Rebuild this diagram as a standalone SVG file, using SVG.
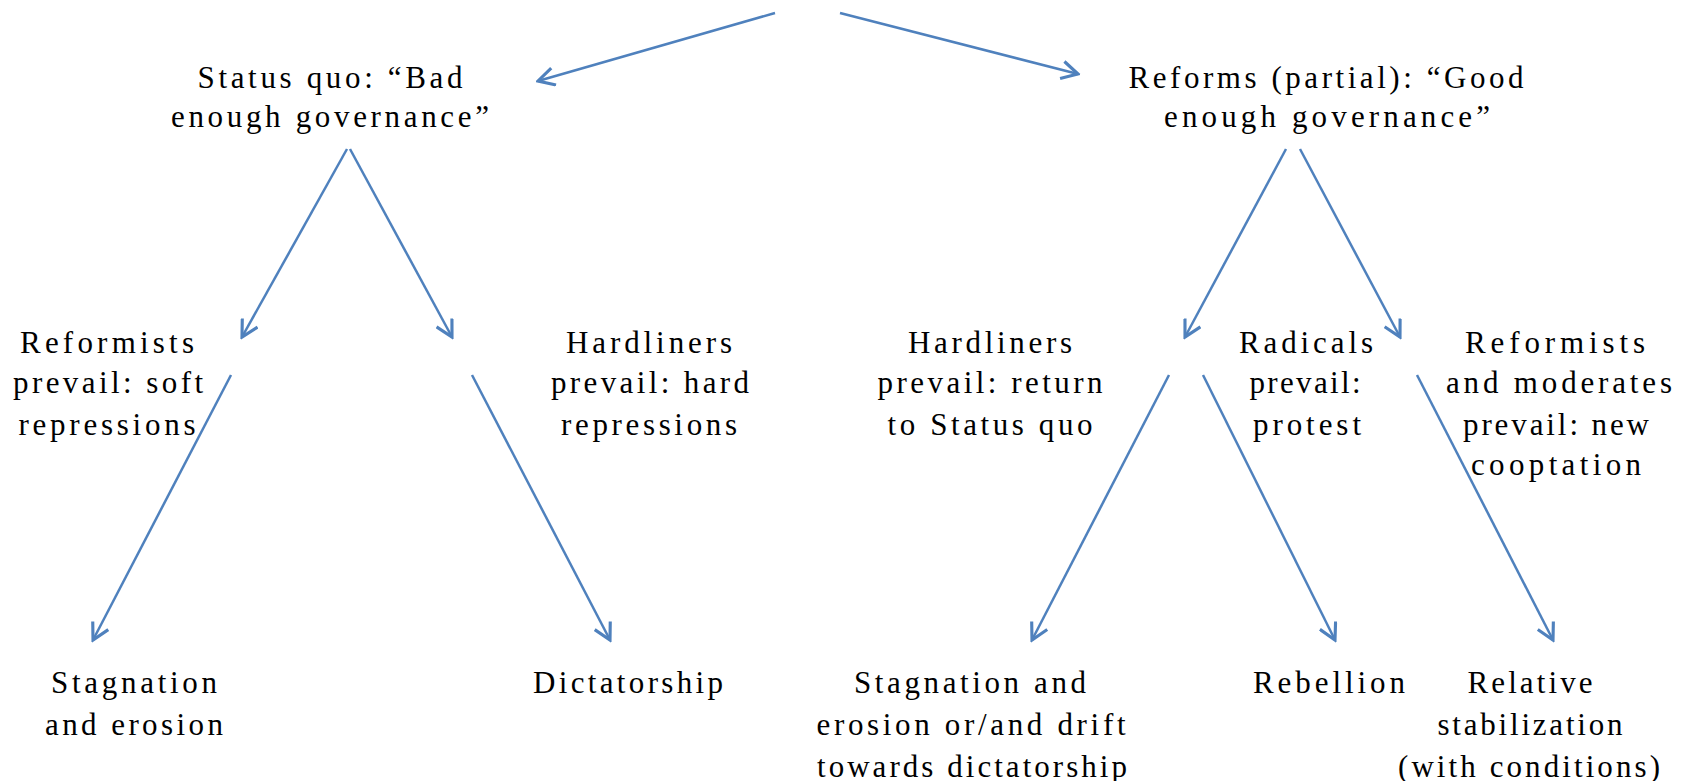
<svg xmlns="http://www.w3.org/2000/svg" width="1688" height="781" viewBox="0 0 1688 781">
<style>
text{font-family:"Liberation Serif","Times New Roman",serif;font-size:31px;fill:#000;text-anchor:middle}
.c{stroke:#4f81bd;stroke-width:2.5;fill:none}
</style>
<defs>
<marker id="ah" markerUnits="userSpaceOnUse" markerWidth="20" markerHeight="20" viewBox="-14 -8 16 16" refX="0" refY="0" orient="auto">
<path d="M-13,-7 L0,0 L-13,7" fill="none" stroke="#4f81bd" stroke-width="2.5" stroke-linejoin="miter"/>
</marker>
</defs>
<rect width="1688" height="781" fill="#fff"/>
<g id="connectors" class="c" marker-end="url(#ah)">
<line x1="775" y1="13" x2="538" y2="81"/>
<line x1="840" y1="13" x2="1078" y2="74"/>
<line x1="347" y1="149" x2="242" y2="337"/>
<line x1="350" y1="149" x2="452" y2="337"/>
<line x1="1286" y1="149" x2="1185" y2="337"/>
<line x1="1300" y1="149" x2="1400" y2="337"/>
<line x1="231" y1="375" x2="93" y2="640"/>
<line x1="472" y1="375" x2="610" y2="640"/>
<line x1="1169" y1="375" x2="1032" y2="640"/>
<line x1="1203" y1="375" x2="1335" y2="640"/>
<line x1="1417" y1="375" x2="1553" y2="640"/>
</g>
<g id="status-quo">
<text x="330" y="88" textLength="265" lengthAdjust="spacing">Status quo: “Bad</text>
<text x="330" y="127" textLength="318" lengthAdjust="spacing">enough governance”</text>
</g>
<g id="reforms">
<text x="1326" y="88" textLength="395" lengthAdjust="spacing">Reforms (partial): “Good</text>
<text x="1327" y="127" textLength="326" lengthAdjust="spacing">enough governance”</text>
</g>
<g id="reformists-soft">
<text x="107" y="353" textLength="174" lengthAdjust="spacing">Reformists</text>
<text x="108" y="393" textLength="190" lengthAdjust="spacing">prevail: soft</text>
<text x="107" y="435" textLength="177" lengthAdjust="spacing">repressions</text>
</g>
<g id="hardliners-hard">
<text x="649" y="353" textLength="166" lengthAdjust="spacing">Hardliners</text>
<text x="650" y="393" textLength="198" lengthAdjust="spacing">prevail: hard</text>
<text x="649" y="435" textLength="176" lengthAdjust="spacing">repressions</text>
</g>
<g id="hardliners-return">
<text x="990" y="353" textLength="164" lengthAdjust="spacing">Hardliners</text>
<text x="990" y="393" textLength="225" lengthAdjust="spacing">prevail: return</text>
<text x="990" y="435" textLength="205" lengthAdjust="spacing">to Status quo</text>
</g>
<g id="radicals">
<text x="1306" y="353" textLength="134" lengthAdjust="spacing">Radicals</text>
<text x="1305" y="393" textLength="111" lengthAdjust="spacing">prevail:</text>
<text x="1307" y="435" textLength="108" lengthAdjust="spacing">protest</text>
</g>
<g id="reformists-moderates">
<text x="1555" y="353" textLength="180" lengthAdjust="spacing">Reformists</text>
<text x="1559" y="393" textLength="226" lengthAdjust="spacing">and moderates</text>
<text x="1556" y="435" textLength="186" lengthAdjust="spacing">prevail: new</text>
<text x="1556" y="475" textLength="170" lengthAdjust="spacing">cooptation</text>
</g>
<g id="stagnation">
<text x="134" y="693" textLength="166" lengthAdjust="spacing">Stagnation</text>
<text x="134" y="735" textLength="178" lengthAdjust="spacing">and erosion</text>
</g>
<g id="dictatorship">
<text x="628" y="693" textLength="190" lengthAdjust="spacing">Dictatorship</text>
</g>
<g id="stagnation-drift">
<text x="970" y="693" textLength="232" lengthAdjust="spacing">Stagnation and</text>
<text x="971" y="735" textLength="309" lengthAdjust="spacing">erosion or/and drift</text>
<text x="972" y="777" textLength="310" lengthAdjust="spacing">towards dictatorship</text>
</g>
<g id="rebellion">
<text x="1329" y="693" textLength="152" lengthAdjust="spacing">Rebellion</text>
</g>
<g id="stabilization">
<text x="1530" y="693" textLength="125" lengthAdjust="spacing">Relative</text>
<text x="1530" y="735" textLength="185" lengthAdjust="spacing">stabilization</text>
<text x="1529" y="777" textLength="262" lengthAdjust="spacing">(with conditions)</text>
</g>
</svg>
